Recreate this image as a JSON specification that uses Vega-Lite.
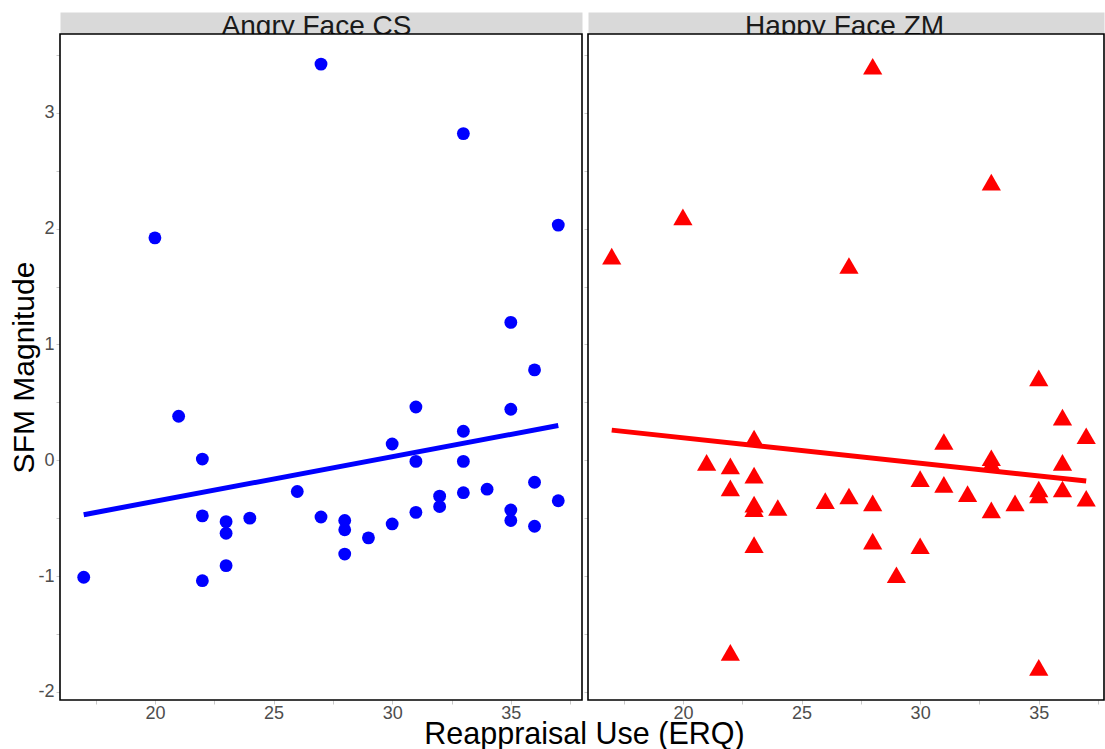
{
  "$schema": "https://vega.github.io/schema/vega-lite/v6.json",
  "padding": {"left": 9, "top": 12, "right": 0, "bottom": 0},
  "bounds": "flush",
  "spacing": 6,
  "config": {
    "font": "Liberation Sans",
    "view": {"stroke": null},
    "axis": {
      "grid": false,
      "domain": false,
      "labelFont": "Liberation Sans",
      "titleFont": "Liberation Sans",
      "labelFontSize": 18,
      "labelColor": "#4d4d4d",
      "tickColor": "#c8c8c8",
      "tickSize": 4,
      "tickWidth": 1,
      "labelPadding": 2
    }
  },
  "datasets": {
    "pts": [
      {"panel": "Angry Face CS", "erq": 17, "sfm": -1.01},
      {"panel": "Angry Face CS", "erq": 20, "sfm": 1.92},
      {"panel": "Angry Face CS", "erq": 21, "sfm": 0.38},
      {"panel": "Angry Face CS", "erq": 22, "sfm": 0.01},
      {"panel": "Angry Face CS", "erq": 22, "sfm": -0.48},
      {"panel": "Angry Face CS", "erq": 22, "sfm": -1.04},
      {"panel": "Angry Face CS", "erq": 23, "sfm": -0.53},
      {"panel": "Angry Face CS", "erq": 23, "sfm": -0.63},
      {"panel": "Angry Face CS", "erq": 23, "sfm": -0.91},
      {"panel": "Angry Face CS", "erq": 24, "sfm": -0.5},
      {"panel": "Angry Face CS", "erq": 26, "sfm": -0.27},
      {"panel": "Angry Face CS", "erq": 27, "sfm": 3.42},
      {"panel": "Angry Face CS", "erq": 27, "sfm": -0.49},
      {"panel": "Angry Face CS", "erq": 28, "sfm": -0.52},
      {"panel": "Angry Face CS", "erq": 28, "sfm": -0.6},
      {"panel": "Angry Face CS", "erq": 28, "sfm": -0.81},
      {"panel": "Angry Face CS", "erq": 29, "sfm": -0.67},
      {"panel": "Angry Face CS", "erq": 30, "sfm": 0.14},
      {"panel": "Angry Face CS", "erq": 30, "sfm": -0.55},
      {"panel": "Angry Face CS", "erq": 31, "sfm": 0.46},
      {"panel": "Angry Face CS", "erq": 31, "sfm": -0.01},
      {"panel": "Angry Face CS", "erq": 31, "sfm": -0.45},
      {"panel": "Angry Face CS", "erq": 32, "sfm": -0.31},
      {"panel": "Angry Face CS", "erq": 32, "sfm": -0.4},
      {"panel": "Angry Face CS", "erq": 33, "sfm": 2.82},
      {"panel": "Angry Face CS", "erq": 33, "sfm": 0.25},
      {"panel": "Angry Face CS", "erq": 33, "sfm": -0.01},
      {"panel": "Angry Face CS", "erq": 33, "sfm": -0.28},
      {"panel": "Angry Face CS", "erq": 34, "sfm": -0.25},
      {"panel": "Angry Face CS", "erq": 35, "sfm": 1.19},
      {"panel": "Angry Face CS", "erq": 35, "sfm": 0.44},
      {"panel": "Angry Face CS", "erq": 35, "sfm": -0.43},
      {"panel": "Angry Face CS", "erq": 35, "sfm": -0.52},
      {"panel": "Angry Face CS", "erq": 36, "sfm": 0.78},
      {"panel": "Angry Face CS", "erq": 36, "sfm": -0.19},
      {"panel": "Angry Face CS", "erq": 36, "sfm": -0.57},
      {"panel": "Angry Face CS", "erq": 37, "sfm": 2.03},
      {"panel": "Angry Face CS", "erq": 37, "sfm": -0.35},
      {"panel": "Happy Face ZM", "erq": 17, "sfm": 1.74},
      {"panel": "Happy Face ZM", "erq": 20, "sfm": 2.08},
      {"panel": "Happy Face ZM", "erq": 21, "sfm": -0.04},
      {"panel": "Happy Face ZM", "erq": 22, "sfm": -0.07},
      {"panel": "Happy Face ZM", "erq": 22, "sfm": -0.26},
      {"panel": "Happy Face ZM", "erq": 22, "sfm": -1.68},
      {"panel": "Happy Face ZM", "erq": 23, "sfm": 0.17},
      {"panel": "Happy Face ZM", "erq": 23, "sfm": -0.15},
      {"panel": "Happy Face ZM", "erq": 23, "sfm": -0.4},
      {"panel": "Happy Face ZM", "erq": 23, "sfm": -0.44},
      {"panel": "Happy Face ZM", "erq": 23, "sfm": -0.75},
      {"panel": "Happy Face ZM", "erq": 24, "sfm": -0.43},
      {"panel": "Happy Face ZM", "erq": 26, "sfm": -0.37},
      {"panel": "Happy Face ZM", "erq": 27, "sfm": 1.66},
      {"panel": "Happy Face ZM", "erq": 27, "sfm": -0.33},
      {"panel": "Happy Face ZM", "erq": 28, "sfm": 3.38},
      {"panel": "Happy Face ZM", "erq": 28, "sfm": -0.39},
      {"panel": "Happy Face ZM", "erq": 28, "sfm": -0.72},
      {"panel": "Happy Face ZM", "erq": 29, "sfm": -1.01},
      {"panel": "Happy Face ZM", "erq": 30, "sfm": -0.18},
      {"panel": "Happy Face ZM", "erq": 30, "sfm": -0.76},
      {"panel": "Happy Face ZM", "erq": 31, "sfm": 0.14},
      {"panel": "Happy Face ZM", "erq": 31, "sfm": -0.23},
      {"panel": "Happy Face ZM", "erq": 32, "sfm": -0.31},
      {"panel": "Happy Face ZM", "erq": 33, "sfm": 2.38},
      {"panel": "Happy Face ZM", "erq": 33, "sfm": 0.0},
      {"panel": "Happy Face ZM", "erq": 33, "sfm": -0.05},
      {"panel": "Happy Face ZM", "erq": 33, "sfm": -0.45},
      {"panel": "Happy Face ZM", "erq": 34, "sfm": -0.39},
      {"panel": "Happy Face ZM", "erq": 35, "sfm": 0.69},
      {"panel": "Happy Face ZM", "erq": 35, "sfm": -0.27},
      {"panel": "Happy Face ZM", "erq": 35, "sfm": -0.32},
      {"panel": "Happy Face ZM", "erq": 35, "sfm": -1.81},
      {"panel": "Happy Face ZM", "erq": 36, "sfm": 0.35},
      {"panel": "Happy Face ZM", "erq": 36, "sfm": -0.04},
      {"panel": "Happy Face ZM", "erq": 36, "sfm": -0.27},
      {"panel": "Happy Face ZM", "erq": 37, "sfm": 0.19},
      {"panel": "Happy Face ZM", "erq": 37, "sfm": -0.35}
    ],
    "fit": [
      {"panel": "Angry Face CS", "erq": 17, "sfm": -0.47},
      {"panel": "Angry Face CS", "erq": 37, "sfm": 0.3},
      {"panel": "Happy Face ZM", "erq": 17, "sfm": 0.26},
      {"panel": "Happy Face ZM", "erq": 37, "sfm": -0.18}
    ]
  },
  "hconcat": [
    {
      "width": 522,
      "height": 666,
      "layer": [
        {
          "data": {"values": [{"panel": "Angry Face CS"}]},
          "mark": {"type": "rect", "fill": "white", "stroke": "black", "strokeWidth": 1.6},
          "encoding": {
            "x": {"datum": 16, "type": "quantitative", "scale": {"domain": [16, 38], "nice": false, "zero": false}, "axis": null},
            "x2": {"datum": 38},
            "y": {"datum": -2.07, "type": "quantitative", "scale": {"domain": [-2.07, 3.68], "nice": false, "zero": false}, "axis": null},
            "y2": {"datum": 3.68}
          }
        },
        {
          "data": {"name": "pts"},
          "transform": [{"filter": "datum.panel === 'Angry Face CS'"}],
          "mark": {"type": "circle", "color": "#0000ff", "size": 165, "opacity": 1},
          "encoding": {
            "x": {
              "field": "erq", "type": "quantitative",
              "axis": {
                "orient": "bottom",
                "values": [17.5, 20, 22.5, 25, 27.5, 30, 32.5, 35, 37.5],
                "labelExpr": "datum.value % 5 === 0 ? '' + datum.value : ''",
                "labelPadding": 0,
                "title": "Reappraisal Use (ERQ)",
                "titleFontSize": 30.5,
                "titleFontWeight": "normal",
                "titleColor": "black",
                "titleX": 524,
                "titleY": 43,
                "titleAlign": "center",
                "titleBaseline": "alphabetic"
              }
            },
            "y": {
              "field": "sfm", "type": "quantitative",
              "axis": {
                "orient": "left",
                "values": [-2, -1.5, -1, -0.5, 0, 0.5, 1, 1.5, 2, 2.5, 3, 3.5],
                "labelExpr": "datum.value % 1 === 0 ? '' + datum.value : ''",
                "title": "SFM Magnitude",
                "titleFontSize": 30,
                "titleFontWeight": "normal",
                "titleColor": "black",
                "titleX": -27,
                "titleBaseline": "alphabetic"
              }
            }
          }
        },
        {
          "data": {"name": "fit"},
          "transform": [{"filter": "datum.panel === 'Angry Face CS'"}],
          "mark": {"type": "line", "color": "#0000ff", "strokeWidth": 5},
          "encoding": {
            "x": {
              "field": "erq", "type": "quantitative",
              "axis": {
                "orient": "top",
                "offset": 11,
                "domain": true,
                "domainColor": "#d9d9d9",
                "domainWidth": 22,
                "ticks": false,
                "labels": false,
                "title": "Angry Face CS",
                "titleFontSize": 28,
                "titleFontWeight": "normal",
                "titleColor": "#1a1a1a",
                "titleX": 256,
                "titleY": 11,
                "titleAlign": "center",
                "titleBaseline": "alphabetic"
              }
            },
            "y": {"field": "sfm", "type": "quantitative", "axis": null}
          }
        }
      ],
      "resolve": {"axis": {"x": "independent", "y": "independent"}}
    },
    {
      "width": 516,
      "height": 666,
      "layer": [
        {
          "data": {"values": [{"panel": "Happy Face ZM"}]},
          "mark": {"type": "rect", "fill": "white", "stroke": "black", "strokeWidth": 1.6},
          "encoding": {
            "x": {"datum": 16, "type": "quantitative", "scale": {"domain": [16, 37.75], "nice": false, "zero": false}, "axis": null},
            "x2": {"datum": 37.75},
            "y": {"datum": -2.07, "type": "quantitative", "scale": {"domain": [-2.07, 3.68], "nice": false, "zero": false}, "axis": null},
            "y2": {"datum": 3.68}
          }
        },
        {
          "data": {"name": "pts"},
          "transform": [{"filter": "datum.panel === 'Happy Face ZM'"}],
          "mark": {"type": "point", "shape": "triangle-up", "filled": true, "color": "#ff0000", "size": 370, "opacity": 1, "strokeWidth": 0, "yOffset": -2.5},
          "encoding": {
            "x": {
              "field": "erq", "type": "quantitative",
              "axis": {
                "orient": "bottom",
                "values": [17.5, 20, 22.5, 25, 27.5, 30, 32.5, 35, 37.5],
                "labelExpr": "datum.value % 5 === 0 ? '' + datum.value : ''",
                "labelPadding": 0,
                "title": null
              }
            },
            "y": {
              "field": "sfm", "type": "quantitative",
              "axis": {
                "orient": "left",
                "values": [-2, -1.5, -1, -0.5, 0, 0.5, 1, 1.5, 2, 2.5, 3, 3.5],
                "labels": false,
                "title": null
              }
            }
          }
        },
        {
          "data": {"name": "fit"},
          "transform": [{"filter": "datum.panel === 'Happy Face ZM'"}],
          "mark": {"type": "line", "color": "#ff0000", "strokeWidth": 5},
          "encoding": {
            "x": {
              "field": "erq", "type": "quantitative",
              "axis": {
                "orient": "top",
                "offset": 11,
                "domain": true,
                "domainColor": "#d9d9d9",
                "domainWidth": 22,
                "ticks": false,
                "labels": false,
                "title": "Happy Face ZM",
                "titleFontSize": 28,
                "titleFontWeight": "normal",
                "titleColor": "#1a1a1a",
                "titleX": 256,
                "titleY": 11,
                "titleAlign": "center",
                "titleBaseline": "alphabetic"
              }
            },
            "y": {"field": "sfm", "type": "quantitative", "axis": null}
          }
        }
      ],
      "resolve": {"axis": {"x": "independent", "y": "independent"}}
    }
  ]
}
